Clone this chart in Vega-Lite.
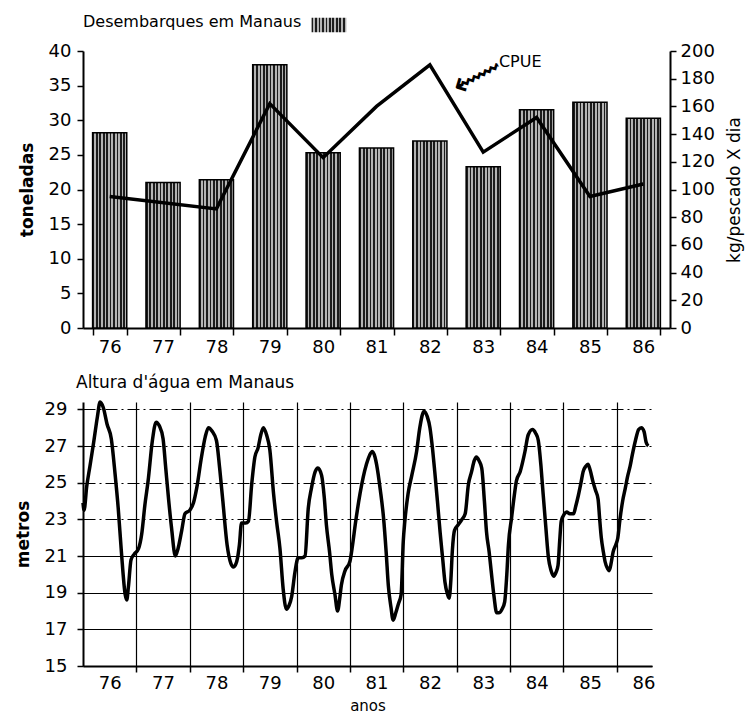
{
  "$schema": "https://vega.github.io/schema/vega-lite/v6.json",
  "background": "white",
  "padding": {"left": 14, "top": 10, "right": 2, "bottom": 2},
  "spacing": 18,
  "config": {
    "view": {"stroke": null},
    "font": "DejaVu Sans",
    "axis": {
      "labelFont": "DejaVu Sans", "titleFont": "DejaVu Sans",
      "labelColor": "black", "titleColor": "black",
      "domainColor": "black", "domainWidth": 2,
      "tickColor": "black", "tickWidth": 1.5,
      "labelFontSize": 18, "grid": false
    }
  },
  "datasets": {
    "tons": [
      {"year": "76", "tons": 28.2}, {"year": "77", "tons": 21.0}, {"year": "78", "tons": 21.4},
      {"year": "79", "tons": 38.0}, {"year": "80", "tons": 25.3}, {"year": "81", "tons": 26.0},
      {"year": "82", "tons": 27.0}, {"year": "83", "tons": 23.3}, {"year": "84", "tons": 31.5},
      {"year": "85", "tons": 32.6}, {"year": "86", "tons": 30.3}
    ],
    "cpue": [
      {"year": "76", "cpue": 95}, {"year": "78", "cpue": 86}, {"year": "79", "cpue": 162},
      {"year": "80", "cpue": 123}, {"year": "81", "cpue": 160}, {"year": "82", "cpue": 190},
      {"year": "83", "cpue": 127}, {"year": "84", "cpue": 152}, {"year": "85", "cpue": 95},
      {"year": "86", "cpue": 104}
    ],
    "level": [
      {"t": 76.00, "level": 23.9}, {"t": 76.02, "level": 23.5}, {"t": 76.07, "level": 24.8},
      {"t": 76.13, "level": 25.9}, {"t": 76.20, "level": 27.2}, {"t": 76.27, "level": 28.6},
      {"t": 76.32, "level": 29.4}, {"t": 76.38, "level": 29.1}, {"t": 76.45, "level": 28.2},
      {"t": 76.53, "level": 27.4}, {"t": 76.60, "level": 25.5}, {"t": 76.66, "level": 23.6},
      {"t": 76.72, "level": 21.2}, {"t": 76.79, "level": 18.9}, {"t": 76.82, "level": 18.6},
      {"t": 76.85, "level": 19.3}, {"t": 76.90, "level": 20.8}, {"t": 76.96, "level": 21.1},
      {"t": 77.04, "level": 21.4}, {"t": 77.10, "level": 22.2}, {"t": 77.16, "level": 23.8},
      {"t": 77.22, "level": 25.1}, {"t": 77.30, "level": 27.3}, {"t": 77.37, "level": 28.3},
      {"t": 77.43, "level": 28.1}, {"t": 77.50, "level": 27.4}, {"t": 77.55, "level": 25.8},
      {"t": 77.60, "level": 24.2}, {"t": 77.66, "level": 22.5}, {"t": 77.73, "level": 21.0},
      {"t": 77.78, "level": 21.4}, {"t": 77.85, "level": 22.4}, {"t": 77.91, "level": 23.3},
      {"t": 78.00, "level": 23.5}, {"t": 78.07, "level": 23.9}, {"t": 78.13, "level": 24.7},
      {"t": 78.22, "level": 26.4}, {"t": 78.29, "level": 27.5}, {"t": 78.35, "level": 28.0},
      {"t": 78.42, "level": 27.8}, {"t": 78.50, "level": 27.3}, {"t": 78.56, "level": 25.8},
      {"t": 78.62, "level": 24.0}, {"t": 78.70, "level": 21.6}, {"t": 78.77, "level": 20.6},
      {"t": 78.82, "level": 20.4}, {"t": 78.88, "level": 20.7}, {"t": 78.93, "level": 21.6},
      {"t": 78.97, "level": 22.8}, {"t": 79.05, "level": 22.8}, {"t": 79.10, "level": 22.9},
      {"t": 79.16, "level": 24.9}, {"t": 79.22, "level": 26.4}, {"t": 79.28, "level": 26.9},
      {"t": 79.33, "level": 27.6}, {"t": 79.38, "level": 28.0}, {"t": 79.44, "level": 27.6},
      {"t": 79.50, "level": 26.8}, {"t": 79.57, "level": 24.4}, {"t": 79.63, "level": 22.8},
      {"t": 79.69, "level": 21.4}, {"t": 79.75, "level": 19.2}, {"t": 79.81, "level": 18.1},
      {"t": 79.86, "level": 18.3}, {"t": 79.91, "level": 18.8}, {"t": 79.97, "level": 20.1},
      {"t": 80.03, "level": 20.9}, {"t": 80.10, "level": 20.9}, {"t": 80.16, "level": 21.0},
      {"t": 80.22, "level": 23.6}, {"t": 80.28, "level": 24.7}, {"t": 80.35, "level": 25.6},
      {"t": 80.40, "level": 25.8}, {"t": 80.47, "level": 25.4}, {"t": 80.52, "level": 24.2},
      {"t": 80.56, "level": 22.7}, {"t": 80.62, "level": 21.2}, {"t": 80.66, "level": 20.0},
      {"t": 80.72, "level": 18.9}, {"t": 80.77, "level": 18.0}, {"t": 80.81, "level": 18.7},
      {"t": 80.84, "level": 19.4}, {"t": 80.91, "level": 20.2}, {"t": 81.00, "level": 20.7},
      {"t": 81.05, "level": 21.6}, {"t": 81.10, "level": 22.7}, {"t": 81.19, "level": 24.4},
      {"t": 81.25, "level": 25.3}, {"t": 81.31, "level": 26.0}, {"t": 81.37, "level": 26.5},
      {"t": 81.42, "level": 26.7}, {"t": 81.47, "level": 26.4}, {"t": 81.50, "level": 26.0},
      {"t": 81.57, "level": 24.6}, {"t": 81.63, "level": 23.1}, {"t": 81.68, "level": 21.2},
      {"t": 81.72, "level": 19.4}, {"t": 81.77, "level": 18.2}, {"t": 81.81, "level": 17.5},
      {"t": 81.86, "level": 17.9}, {"t": 81.91, "level": 18.4}, {"t": 81.96, "level": 18.9},
      {"t": 82.00, "level": 21.8}, {"t": 82.03, "level": 22.9}, {"t": 82.09, "level": 24.4},
      {"t": 82.16, "level": 25.4}, {"t": 82.25, "level": 26.7}, {"t": 82.31, "level": 28.0},
      {"t": 82.39, "level": 28.9}, {"t": 82.45, "level": 28.6}, {"t": 82.50, "level": 28.0},
      {"t": 82.55, "level": 26.8}, {"t": 82.59, "level": 25.6}, {"t": 82.64, "level": 24.0},
      {"t": 82.69, "level": 22.3}, {"t": 82.74, "level": 20.8}, {"t": 82.78, "level": 19.6},
      {"t": 82.83, "level": 18.9}, {"t": 82.86, "level": 18.7}, {"t": 82.89, "level": 19.6},
      {"t": 82.92, "level": 21.3}, {"t": 82.96, "level": 22.4}, {"t": 83.03, "level": 22.7},
      {"t": 83.10, "level": 23.0}, {"t": 83.16, "level": 23.3}, {"t": 83.22, "level": 24.9},
      {"t": 83.28, "level": 25.6}, {"t": 83.33, "level": 26.2}, {"t": 83.37, "level": 26.4},
      {"t": 83.42, "level": 26.2}, {"t": 83.47, "level": 25.8}, {"t": 83.52, "level": 24.0},
      {"t": 83.56, "level": 22.3}, {"t": 83.61, "level": 21.2}, {"t": 83.65, "level": 20.1},
      {"t": 83.70, "level": 18.8}, {"t": 83.75, "level": 17.9}, {"t": 83.79, "level": 17.9},
      {"t": 83.85, "level": 18.1}, {"t": 83.90, "level": 18.5}, {"t": 83.94, "level": 20.0},
      {"t": 83.97, "level": 21.6}, {"t": 84.03, "level": 23.1}, {"t": 84.08, "level": 24.3},
      {"t": 84.12, "level": 25.1}, {"t": 84.19, "level": 25.6}, {"t": 84.28, "level": 26.7},
      {"t": 84.34, "level": 27.6}, {"t": 84.42, "level": 27.9}, {"t": 84.48, "level": 27.7},
      {"t": 84.53, "level": 27.3}, {"t": 84.58, "level": 25.9}, {"t": 84.62, "level": 24.4},
      {"t": 84.67, "level": 22.6}, {"t": 84.72, "level": 20.9}, {"t": 84.77, "level": 20.2},
      {"t": 84.82, "level": 19.9}, {"t": 84.86, "level": 20.1}, {"t": 84.90, "level": 20.5},
      {"t": 84.93, "level": 21.8}, {"t": 84.96, "level": 22.9}, {"t": 85.02, "level": 23.3},
      {"t": 85.06, "level": 23.4}, {"t": 85.12, "level": 23.3}, {"t": 85.19, "level": 23.3},
      {"t": 85.23, "level": 23.7}, {"t": 85.28, "level": 24.3}, {"t": 85.33, "level": 25.0},
      {"t": 85.37, "level": 25.6}, {"t": 85.42, "level": 25.9}, {"t": 85.46, "level": 26.0},
      {"t": 85.50, "level": 25.7}, {"t": 85.55, "level": 25.1}, {"t": 85.60, "level": 24.6},
      {"t": 85.65, "level": 24.1}, {"t": 85.68, "level": 23.0}, {"t": 85.71, "level": 22.0},
      {"t": 85.75, "level": 21.2}, {"t": 85.78, "level": 20.7}, {"t": 85.83, "level": 20.3},
      {"t": 85.86, "level": 20.2}, {"t": 85.90, "level": 20.7}, {"t": 85.93, "level": 21.2},
      {"t": 85.98, "level": 21.6}, {"t": 86.02, "level": 22.0}, {"t": 86.06, "level": 23.0},
      {"t": 86.11, "level": 24.0}, {"t": 86.16, "level": 24.7}, {"t": 86.20, "level": 25.3},
      {"t": 86.25, "level": 25.9}, {"t": 86.29, "level": 26.5}, {"t": 86.35, "level": 27.3},
      {"t": 86.41, "level": 27.9}, {"t": 86.46, "level": 28.0}, {"t": 86.51, "level": 27.8},
      {"t": 86.55, "level": 27.2}, {"t": 86.59, "level": 27.0}
    ]
  },
  "vconcat": [
    {
      "width": 587,
      "height": 277,
      "layer": [
        {
          "data": {"name": "tons"},
          "mark": {
            "type": "bar",
            "stroke": "black",
            "strokeWidth": 1.5,
            "fill": {
              "gradient": "linear", "x1": 0, "x2": 1, "y1": 0, "y2": 0,
              "stops": [
                {"offset": 0, "color": "#1c1c1c"}, {"offset": 0.05, "color": "#1c1c1c"},
                {"offset": 0.05, "color": "#b4b4b4"}, {"offset": 0.1, "color": "#b4b4b4"},
                {"offset": 0.1, "color": "#1c1c1c"}, {"offset": 0.15, "color": "#1c1c1c"},
                {"offset": 0.15, "color": "#b4b4b4"}, {"offset": 0.2, "color": "#b4b4b4"},
                {"offset": 0.2, "color": "#1c1c1c"}, {"offset": 0.25, "color": "#1c1c1c"},
                {"offset": 0.25, "color": "#b4b4b4"}, {"offset": 0.3, "color": "#b4b4b4"},
                {"offset": 0.3, "color": "#1c1c1c"}, {"offset": 0.35, "color": "#1c1c1c"},
                {"offset": 0.35, "color": "#b4b4b4"}, {"offset": 0.4, "color": "#b4b4b4"},
                {"offset": 0.4, "color": "#1c1c1c"}, {"offset": 0.45, "color": "#1c1c1c"},
                {"offset": 0.45, "color": "#b4b4b4"}, {"offset": 0.5, "color": "#b4b4b4"},
                {"offset": 0.5, "color": "#1c1c1c"}, {"offset": 0.55, "color": "#1c1c1c"},
                {"offset": 0.55, "color": "#b4b4b4"}, {"offset": 0.6, "color": "#b4b4b4"},
                {"offset": 0.6, "color": "#1c1c1c"}, {"offset": 0.65, "color": "#1c1c1c"},
                {"offset": 0.65, "color": "#b4b4b4"}, {"offset": 0.7, "color": "#b4b4b4"},
                {"offset": 0.7, "color": "#1c1c1c"}, {"offset": 0.75, "color": "#1c1c1c"},
                {"offset": 0.75, "color": "#b4b4b4"}, {"offset": 0.8, "color": "#b4b4b4"},
                {"offset": 0.8, "color": "#1c1c1c"}, {"offset": 0.85, "color": "#1c1c1c"},
                {"offset": 0.85, "color": "#b4b4b4"}, {"offset": 0.9, "color": "#b4b4b4"},
                {"offset": 0.9, "color": "#1c1c1c"}, {"offset": 0.95, "color": "#1c1c1c"},
                {"offset": 0.95, "color": "#b4b4b4"}, {"offset": 1, "color": "#b4b4b4"}
              ]
            }
          },
          "encoding": {
            "x": {
              "field": "year", "type": "ordinal",
              "scale": {"paddingInner": 0.36, "paddingOuter": 0.18},
              "axis": {"title": null, "labelAngle": 0, "tickBand": "extent", "tickSize": 7, "labelPadding": 3}
            },
            "y": {
              "field": "tons", "type": "quantitative",
              "scale": {"domain": [0, 40], "nice": false},
              "axis": {
                "title": "toneladas", "titleFontWeight": "bold", "titleFontSize": 17, "titlePadding": 12,
                "values": [0, 5, 10, 15, 20, 25, 30, 35, 40], "tickSize": 6, "labelPadding": 6
              }
            },
            "opacity": {
              "datum": "Desembarques em Manaus", "type": "nominal",
              "scale": {"range": [1]},
              "legend": {
                "title": "Desembarques em Manaus", "titleOrient": "left", "orient": "top",
                "titleFontSize": 16, "titleFontWeight": "normal", "titleColor": "black", "titlePadding": 12,
                "titleLimit": 400,
                "labelExpr": "''", "symbolType": "M-1.2,-0.5H1.2V0.5H-1.2Z", "symbolSize": 840,
                "symbolStrokeColor": "black", "symbolStrokeWidth": 1, "offset": 7
              }
            }
          }
        },
        {
          "data": {"name": "cpue"},
          "mark": {"type": "line", "color": "black", "strokeWidth": 3.5},
          "encoding": {
            "x": {"field": "year", "type": "ordinal"},
            "y": {
              "field": "cpue", "type": "quantitative",
              "scale": {"domain": [0, 200], "nice": false},
              "axis": {
                "orient": "right", "title": "kg/pescado X dia", "titleAngle": 270, "titleBaseline": "top",
                "titleFontWeight": "normal", "titleFontSize": 17, "titlePadding": 12,
                "values": [0, 20, 40, 60, 80, 100, 120, 140, 160, 180, 200], "tickSize": 6, "labelPadding": 4
              }
            }
          }
        },
        {
          "data": {"values": [{"year": "83", "v": 192, "label": "CPUE"}]},
          "mark": {"type": "text", "dx": 37, "fontSize": 16, "color": "black"},
          "encoding": {
            "x": {"field": "year", "type": "ordinal"},
            "y": {"field": "v", "type": "quantitative", "scale": {"domain": [0, 200], "nice": false}, "axis": null},
            "text": {"field": "label"}
          }
        },
        {
          "data": {"values": [{"year": "83", "v": 184, "label": "⟿"}]},
          "mark": {"type": "text", "dx": 7, "fontSize": 36, "angle": 152, "color": "black"},
          "encoding": {
            "x": {"field": "year", "type": "ordinal"},
            "y": {"field": "v", "type": "quantitative", "scale": {"domain": [0, 200], "nice": false}, "axis": null},
            "text": {"field": "label"}
          }
        }
      ],
      "resolve": {"scale": {"y": "independent"}}
    },
    {
      "width": 569,
      "height": 264,
      "title": {
        "text": "Altura d'água em Manaus", "anchor": "start", "frame": "group",
        "fontSize": 17, "fontWeight": "normal", "color": "black", "dx": -7, "offset": 3
      },
      "data": {"name": "level"},
      "mark": {"type": "line", "color": "black", "strokeWidth": 3.5, "interpolate": "monotone"},
      "encoding": {
        "x": {
          "field": "t", "type": "quantitative",
          "scale": {"domain": [76, 86.66], "nice": false, "zero": false},
          "axis": {
            "title": "anos", "titleFontSize": 15, "titleFontWeight": "normal", "titlePadding": 6,
            "values": [76.5, 77, 77.5, 78, 78.5, 79, 79.5, 80, 80.5, 81, 81.5, 82, 82.5, 83, 83.5, 84, 84.5, 85, 85.5, 86, 86.5],
            "labelExpr": "datum.value % 1 == 0 ? '' : '' + floor(datum.value)",
            "labelOverlap": false, "labelFlush": false,
            "grid": true, "gridColor": "black", "gridWidth": 1.2,
            "gridOpacity": {"condition": {"test": "datum.value % 1 == 0", "value": 1}, "value": 0},
            "tickOpacity": {"condition": {"test": "datum.value % 1 == 0", "value": 1}, "value": 0},
            "tickSize": 6, "labelPadding": 2
          }
        },
        "y": {
          "field": "level", "type": "quantitative",
          "scale": {"domain": [15, 29.4], "nice": false, "zero": false},
          "axis": {
            "title": "metros", "titleFontWeight": "bold", "titleFontSize": 17, "titlePadding": 12,
            "values": [15, 17, 19, 21, 23, 25, 27, 29],
            "grid": true, "gridColor": "black", "gridWidth": 1.2,
            "gridDash": {"condition": {"test": "datum.value >= 23", "value": [12, 4, 2, 4]}, "value": []},
            "tickSize": 6, "labelPadding": 10
          }
        }
      }
    }
  ]
}
